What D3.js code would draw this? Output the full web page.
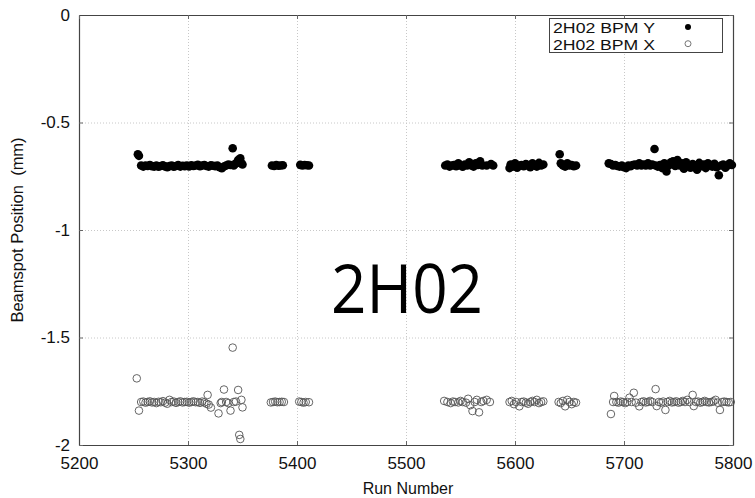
<!DOCTYPE html>
<html><head><meta charset="utf-8">
<script src="https://cdn.jsdelivr.net/npm/d3@7"></script>
<style>body{margin:0;background:#fff}svg{display:block}</style>
</head><body><svg id="c" width="755" height="498"></svg>
<script>
const xTicks = [5200,5300,5400,5500,5600,5700,5800];
const yTicks = [0,-0.5,-1,-1.5,-2];
const yTickLabels = ["0","-0.5","-1","-1.5","-2"];
const seriesNames = ["2H02 BPM Y","2H02 BPM X"];

const bpmYRuns = [5254,5255,5257,5259,5261,5263,5265,5267,5269,5271,5273,5275,5277,5279,5281,5283,5285,5287,5289,5291,5293,5295,5297,5299,5301,5303,5305,5307,5309,5311,5313,5315,5317,5319,5321,5323,5325,5327,5329,5331,5333,5335,5337,5339,5341,5342,5344,5346,5347,5348,5349,5350,
5377,5379,5381,5383,5385,5387,
5403,5405,5407,5409,5411,
5536,5538,5540,5542,5544,5546,5548,5550,5552,5554,5556,5558,5560,5562,5564,5566,5568,5570,5574,5578,5580,
5595,5596,5598,5600,5602,5604,5606,5608,5610,5612,5614,5616,5618,5620,5622,5624,5626,
5641,5642,5644,5646,5648,5650,5652,5654,5656,
5686,5688,5690,5692,5694,5696,5698,5700,5702,5704,5706,5708,5710,5712,5714,5716,5718,5720,5722,5724,5726,5728,5729,5731,5733,5735,5737,5739,5741,5743,5745,5747,5749,5751,5753,5755,5757,5759,5761,5763,5765,5767,5769,5771,5773,5775,5777,5779,5781,5783,5785,5787,5789,5791,5793,5795,5797,5799];
const bpmYVals = [-0.648,-0.655,-0.700,-0.705,-0.700,-0.702,-0.698,-0.703,-0.705,-0.700,-0.706,-0.702,-0.699,-0.704,-0.708,-0.703,-0.700,-0.706,-0.702,-0.698,-0.705,-0.701,-0.703,-0.700,-0.704,-0.699,-0.702,-0.700,-0.697,-0.703,-0.700,-0.698,-0.702,-0.705,-0.699,-0.701,-0.703,-0.700,-0.708,-0.713,-0.705,-0.700,-0.695,-0.698,-0.620,-0.700,-0.690,-0.675,-0.685,-0.667,-0.690,-0.695,
-0.700,-0.702,-0.698,-0.701,-0.700,-0.699,
-0.697,-0.700,-0.698,-0.699,-0.700,
-0.700,-0.695,-0.705,-0.700,-0.698,-0.703,-0.690,-0.700,-0.706,-0.695,-0.700,-0.685,-0.700,-0.705,-0.690,-0.698,-0.680,-0.700,-0.700,-0.693,-0.700,
-0.712,-0.695,-0.705,-0.690,-0.710,-0.700,-0.698,-0.703,-0.693,-0.700,-0.708,-0.690,-0.700,-0.705,-0.688,-0.700,-0.695,
-0.648,-0.690,-0.700,-0.705,-0.690,-0.700,-0.698,-0.703,-0.700,
-0.690,-0.693,-0.700,-0.698,-0.702,-0.705,-0.700,-0.708,-0.712,-0.700,-0.703,-0.698,-0.695,-0.700,-0.690,-0.700,-0.695,-0.700,-0.690,-0.700,-0.696,-0.623,-0.700,-0.705,-0.698,-0.712,-0.690,-0.728,-0.700,-0.685,-0.680,-0.702,-0.675,-0.700,-0.690,-0.715,-0.685,-0.700,-0.710,-0.693,-0.700,-0.720,-0.688,-0.703,-0.695,-0.712,-0.690,-0.700,-0.705,-0.692,-0.708,-0.745,-0.700,-0.695,-0.710,-0.700,-0.690,-0.698];

const bpmXRuns = [5253,5255,5257,5259,5261,5263,5265,5267,5269,5271,5273,5275,5277,5279,5281,5283,5285,5287,5289,5291,5293,5295,5297,5299,5301,5303,5305,5307,5309,5311,5313,5315,5317,5318,5319,5321,5328,5330,5331,5333,5335,5337,5339,5341,5342,5344,5346,5347,5348,5349,5350,
5376,5378,5380,5382,5384,5386,5388,
5402,5404,5406,5408,5411,
5535,5538,5541,5543,5545,5548,5550,5552,5555,5557,5559,5561,5563,5565,5567,5569,5571,5574,5577,
5595,5597,5599,5601,5604,5606,5608,5610,5612,5614,5616,5618,5620,5622,5624,5626,
5640,5642,5644,5646,5648,5650,5652,5654,5656,
5688,5690,5691,5693,5695,5697,5699,5701,5703,5705,5707,5709,5711,5714,5716,5718,5720,5722,5724,5726,5729,5730,5732,5734,5736,5738,5740,5742,5744,5746,5748,5750,5752,5754,5756,5758,5760,5763,5764,5766,5768,5770,5772,5774,5776,5778,5780,5782,5784,5786,5788,5790,5792,5794,5796,5798];
const bpmXVals = [-1.690,-1.840,-1.800,-1.798,-1.803,-1.800,-1.797,-1.802,-1.800,-1.805,-1.799,-1.801,-1.796,-1.803,-1.808,-1.790,-1.800,-1.798,-1.804,-1.800,-1.797,-1.802,-1.800,-1.799,-1.803,-1.800,-1.797,-1.801,-1.800,-1.804,-1.798,-1.802,-1.808,-1.767,-1.812,-1.826,-1.853,-1.805,-1.800,-1.742,-1.800,-1.805,-1.840,-1.547,-1.800,-1.798,-1.744,-1.953,-1.972,-1.790,-1.825,
-1.802,-1.800,-1.798,-1.801,-1.800,-1.799,-1.800,
-1.798,-1.800,-1.803,-1.800,-1.801,
-1.795,-1.800,-1.805,-1.798,-1.800,-1.802,-1.795,-1.800,-1.803,-1.785,-1.815,-1.842,-1.800,-1.790,-1.848,-1.800,-1.795,-1.790,-1.800,
-1.800,-1.795,-1.810,-1.800,-1.820,-1.800,-1.798,-1.803,-1.808,-1.800,-1.795,-1.800,-1.790,-1.805,-1.800,-1.797,
-1.800,-1.805,-1.795,-1.820,-1.790,-1.800,-1.810,-1.800,-1.803,
-1.856,-1.800,-1.772,-1.800,-1.803,-1.798,-1.800,-1.805,-1.800,-1.780,-1.800,-1.757,-1.803,-1.820,-1.800,-1.797,-1.802,-1.800,-1.795,-1.800,-1.740,-1.819,-1.800,-1.803,-1.798,-1.837,-1.800,-1.795,-1.802,-1.800,-1.797,-1.803,-1.800,-1.795,-1.800,-1.790,-1.800,-1.767,-1.819,-1.800,-1.798,-1.803,-1.800,-1.795,-1.800,-1.802,-1.800,-1.797,-1.790,-1.803,-1.837,-1.800,-1.798,-1.800,-1.802,-1.800];

const svg = d3.select("#c");
const L = 79, R = 733, T = 15, B = 445;
const x = d3.scaleLinear().domain([5200,5800]).range([L,R]);
const y = d3.scaleLinear().domain([-2,0]).range([B,T]);
const font = "'Liberation Sans', Arial, sans-serif";

// grid
const grid = svg.append("g").attr("stroke","#c8c8c8").attr("stroke-width",1).attr("stroke-dasharray","1,2");
grid.selectAll("line.vx").data(xTicks.slice(1,-1)).join("line")
  .attr("x1",d=>x(d)+0.5).attr("x2",d=>x(d)+0.5).attr("y1",T).attr("y2",B);
grid.selectAll("line.hy").data(yTicks.slice(1,-1)).join("line")
  .attr("x1",L).attr("x2",R).attr("y1",d=>y(d)+0.5).attr("y2",d=>y(d)+0.5);

// axes
const ax = svg.append("g").attr("transform",`translate(0,${B})`)
  .call(d3.axisBottom(x).tickValues(xTicks).tickSizeInner(-4).tickSizeOuter(0).tickPadding(12).tickFormat(d3.format("d")));
const ay = svg.append("g").attr("transform",`translate(${L},0)`)
  .call(d3.axisLeft(y).tickValues(yTicks).tickSizeInner(-4).tickSizeOuter(0).tickPadding(9).tickFormat((d,i)=>yTickLabels[i]));
const at = svg.append("g").attr("transform",`translate(0,${T})`)
  .call(d3.axisTop(x).tickValues(xTicks).tickSizeInner(-4).tickSizeOuter(0).tickFormat(""));
const ar = svg.append("g").attr("transform",`translate(${R},0)`)
  .call(d3.axisRight(y).tickValues(yTicks).tickSizeInner(-4).tickSizeOuter(0).tickFormat(""));
[ax,ay,at,ar].forEach(g=>{
  g.select(".domain").attr("stroke","#444").attr("stroke-width",1.2);
  g.selectAll(".tick line").attr("stroke","#666");
  g.selectAll("text").attr("font-family",font).attr("font-size",17).attr("fill","#111");
});

// series
svg.append("g").selectAll("circle").data(bpmXRuns.map((r,i)=>[r,bpmXVals[i]])).join("circle")
  .attr("cx",d=>x(d[0])).attr("cy",d=>y(d[1])).attr("r",3.8)
  .attr("fill","none").attr("stroke","#555").attr("stroke-width",0.9);
svg.append("g").selectAll("circle").data(bpmYRuns.map((r,i)=>[r,bpmYVals[i]])).join("circle")
  .attr("cx",d=>x(d[0])).attr("cy",d=>y(d[1])).attr("r",4.3).attr("fill","#000");

// axis titles
svg.append("text").attr("x",408).attr("y",494).attr("text-anchor","middle")
  .attr("font-family",font).attr("font-size",16).attr("fill","#111").text("Run Number");
svg.append("text").attr("transform",`translate(23,230) rotate(-90)`).attr("text-anchor","middle")
  .attr("font-family",font).attr("font-size",16.5).attr("fill","#111").attr("xml:space","preserve").text("Beamspot Position  (mm)");

// legend
const lg = svg.append("g");
lg.append("rect").attr("x",549.5).attr("y",18.5).attr("width",173).attr("height",34)
  .attr("fill","#fff").attr("stroke","#444").attr("stroke-width",1);
seriesNames.forEach((n,i)=>{
  lg.append("text").attr("x",553).attr("y",32.5+i*17).attr("font-family",font).attr("font-size",15)
    .attr("textLength",102).attr("lengthAdjust","spacingAndGlyphs").attr("fill","#111").text(n);
  const c = lg.append("circle").attr("cx",688).attr("cy",27+i*16.7).attr("r",3);
  if(i===0) c.attr("fill","#000"); else c.attr("fill","none").attr("stroke","#666").attr("stroke-width",0.9);
});

// big label
svg.append("text").attr("x",407).attr("y",313).attr("text-anchor","middle")
  .attr("font-family","'Open Sans', 'Liberation Sans', sans-serif").attr("font-size",68)
  .attr("textLength",152).attr("lengthAdjust","spacingAndGlyphs").attr("fill","#000").text("2H02");
</script></body></html>
